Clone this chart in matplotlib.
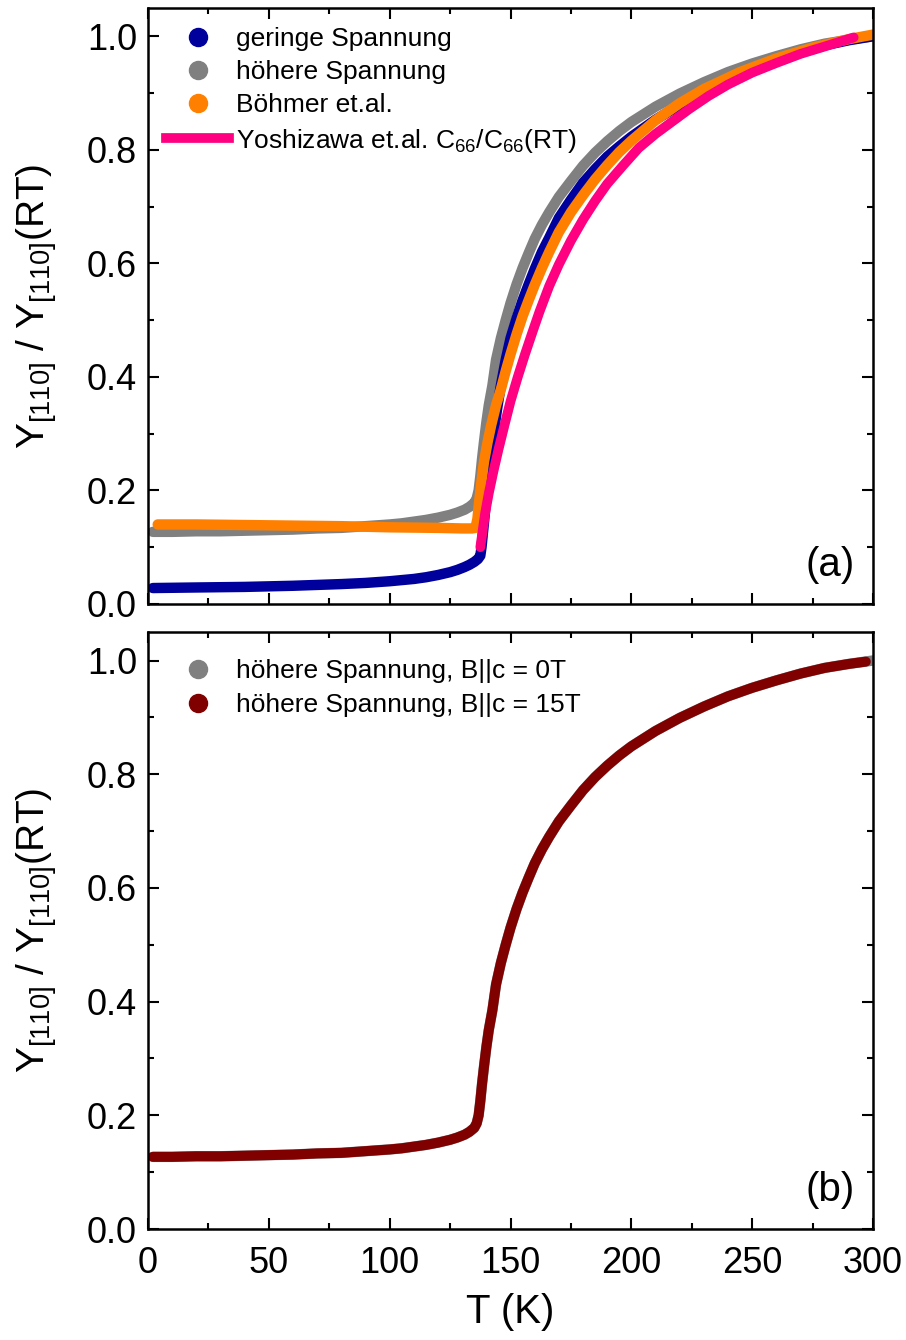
import numpy as np
import matplotlib
matplotlib.use('Agg')
import matplotlib.pyplot as plt
from matplotlib.lines import Line2D
from matplotlib.ticker import MultipleLocator, FormatStrFormatter

plt.rcParams['font.family'] = ['Liberation Sans', 'DejaVu Sans']
plt.rcParams['mathtext.fontset'] = 'custom'
plt.rcParams['mathtext.rm'] = 'Liberation Sans'
plt.rcParams['mathtext.default'] = 'regular'

# geringe Spannung
T_low = [2, 20, 40, 60, 80, 90, 100, 110, 115, 120, 125, 128, 131, 133, 135, 136.5, 137.5,
         138, 138.7, 139.5, 140.5, 141.5, 143, 144.5, 146, 148, 150, 152.5, 155, 157.5, 160,
         163, 166, 170, 175, 180, 185, 190, 195, 200, 210, 220, 230, 240, 250, 260, 270, 280,
         290, 300]
Y_low = [0.028, 0.029, 0.030, 0.032, 0.035, 0.037, 0.040, 0.044, 0.047, 0.051, 0.056, 0.060,
         0.065, 0.069, 0.074, 0.079, 0.085, 0.10, 0.13, 0.165, 0.21, 0.25, 0.30, 0.345, 0.385,
         0.43, 0.468, 0.503, 0.535, 0.563, 0.59, 0.62, 0.645, 0.68, 0.712, 0.742, 0.766, 0.788,
         0.806, 0.823, 0.853, 0.879, 0.902, 0.923, 0.942, 0.958, 0.972, 0.984, 0.993, 1.0]

# hoehere Spannung
T_high = [2, 10, 20, 30, 40, 50, 60, 70, 80, 90, 100, 105, 110, 115, 120, 125, 128, 131, 133,
          135, 136, 136.8, 137.5, 138.2, 139, 140, 141, 142.5, 144, 146, 148, 150, 152.5, 155,
          157.5, 160, 163, 166, 170, 175, 180, 185, 190, 195, 200, 210, 220, 230, 240, 250,
          260, 270, 280, 290, 300]
Y_high = [0.127, 0.127, 0.128, 0.128, 0.129, 0.130, 0.131, 0.133, 0.134, 0.137, 0.140, 0.142,
          0.145, 0.148, 0.152, 0.157, 0.161, 0.166, 0.171, 0.178, 0.186, 0.20, 0.225, 0.255,
          0.285, 0.32, 0.35, 0.385, 0.43, 0.468, 0.50, 0.53, 0.563, 0.592, 0.618, 0.643, 0.668,
          0.69, 0.717, 0.745, 0.772, 0.795, 0.815, 0.833, 0.849, 0.876, 0.899, 0.919, 0.937,
          0.952, 0.965, 0.977, 0.987, 0.994, 1.0]

# Boehmer et al.
T_boe = [4, 20, 40, 60, 80, 100, 120, 130, 134, 135.5, 136.3, 137, 137.8, 139, 140.5, 142, 144,
         146, 148, 150, 152.5, 155, 157.5, 160, 163, 166, 170, 175, 180, 185, 190, 195, 200,
         210, 220, 230, 245, 260, 275, 290, 300]
Y_boe = [0.140, 0.140, 0.139, 0.138, 0.137, 0.135, 0.134, 0.133, 0.133, 0.134, 0.15, 0.18,
         0.21, 0.25, 0.285, 0.315, 0.35, 0.378, 0.41, 0.44, 0.475, 0.507, 0.535, 0.562, 0.592,
         0.62, 0.655, 0.69, 0.72, 0.748, 0.773, 0.796, 0.816, 0.852, 0.882, 0.907, 0.937,
         0.961, 0.98, 0.995, 1.003]

# Yoshizawa et al. C66/C66(RT)
T_yos = [137.5, 138.5, 139.5, 141, 143, 145, 147.5, 150, 153, 156, 159, 162, 166, 170, 175,
         180, 185, 190, 196.5, 203, 210, 217, 224, 232, 240, 250, 260, 270, 280, 292]
Y_yos = [0.10, 0.13, 0.16, 0.195, 0.235, 0.272, 0.315, 0.357, 0.40, 0.44, 0.478, 0.515, 0.56,
         0.598, 0.64, 0.677, 0.71, 0.74, 0.772, 0.803, 0.828, 0.85, 0.872, 0.895, 0.915, 0.936,
         0.953, 0.969, 0.982, 0.998]

# hoehere Spannung im Feld, B||c = 0T und 15T
T_0T = T_high
Y_0T = Y_high
T_15T = T_high[:-1] + [297]
Y_15T = Y_high[:-1] + [0.998]

c_blue = '#00009c'
c_gray = '#808080'
c_orange = '#ff8000'
c_pink = '#ff0080'
c_red = '#800000'

fig = plt.figure(figsize=(9.06, 13.4), dpi=100)
ax1 = fig.add_axes([0.1634, 0.5493, 0.8002, 0.4448])
ax2 = fig.add_axes([0.1634, 0.0828, 0.8002, 0.4455])

lw = 7.5
ax1.plot(T_high, Y_high, color=c_gray, lw=lw, solid_capstyle='round')
ax1.plot(T_low, Y_low, color=c_blue, lw=lw, solid_capstyle='round')
ax1.plot(T_boe, Y_boe, color=c_orange, lw=lw, solid_capstyle='round')
ax1.plot(T_yos, Y_yos, color=c_pink, lw=7, solid_capstyle='round')

ax2.plot(T_0T, Y_0T, color=c_gray, lw=lw, solid_capstyle='round')
ax2.plot(T_15T, Y_15T, color=c_red, lw=7.2, solid_capstyle='round')

for ax in (ax1, ax2):
    ax.set_xlim(0, 300)
    ax.set_ylim(0, 1.05)
    ax.xaxis.set_major_locator(MultipleLocator(50))
    ax.xaxis.set_minor_locator(MultipleLocator(25))
    ax.yaxis.set_major_locator(MultipleLocator(0.2))
    ax.yaxis.set_minor_locator(MultipleLocator(0.1))
    ax.tick_params(which='both', direction='in', top=True, right=True, width=1.5, labelsize=26)
    ax.tick_params(which='major', length=8)
    ax.tick_params(which='minor', length=4.5)
    ax.tick_params(axis='x', pad=12)
    ax.tick_params(axis='y', pad=8)
    ax.yaxis.set_major_formatter(FormatStrFormatter('%.1f'))
    for s in ax.spines.values():
        s.set_linewidth(1.8)
    ax.set_ylabel(r'Y$_{[110]}$ / Y$_{[110]}$(RT)', fontsize=28, labelpad=20)

ax1.tick_params(labelbottom=False)
ax2.set_xlabel('T (K)', fontsize=29, labelpad=9)

ax1.text(0.975, 0.066, '(a)', transform=ax1.transAxes, ha='right', va='center', fontsize=29)
ax2.text(0.975, 0.066, '(b)', transform=ax2.transAxes, ha='right', va='center', fontsize=29)

dot = dict(marker='o', linestyle='none', markersize=13)
h1 = [Line2D([], [], color=c_blue, **dot),
      Line2D([], [], color=c_gray, **dot),
      Line2D([], [], color=c_orange, **dot),
      Line2D([], [], color=c_pink, lw=7)]
ax1.legend(h1, ['geringe Spannung', 'höhere Spannung', 'Böhmer et.al.',
                r'Yoshizawa et.al. C$_{66}$/C$_{66}$(RT)'],
           loc='upper left', frameon=False, fontsize=19, handlelength=2.4,
           handletextpad=0.25, labelspacing=0.35, borderaxespad=0.0,
           bbox_to_anchor=(0.01, 0.986))

h2 = [Line2D([], [], color=c_gray, **dot),
      Line2D([], [], color=c_red, **dot)]
ax2.legend(h2, ['höhere Spannung, B||c = 0T', 'höhere Spannung, B||c = 15T'],
           loc='upper left', frameon=False, fontsize=19, handlelength=2.4,
           handletextpad=0.25, labelspacing=0.4, borderaxespad=0.0,
           bbox_to_anchor=(0.01, 0.973))

fig.savefig('out.png', dpi=100)
